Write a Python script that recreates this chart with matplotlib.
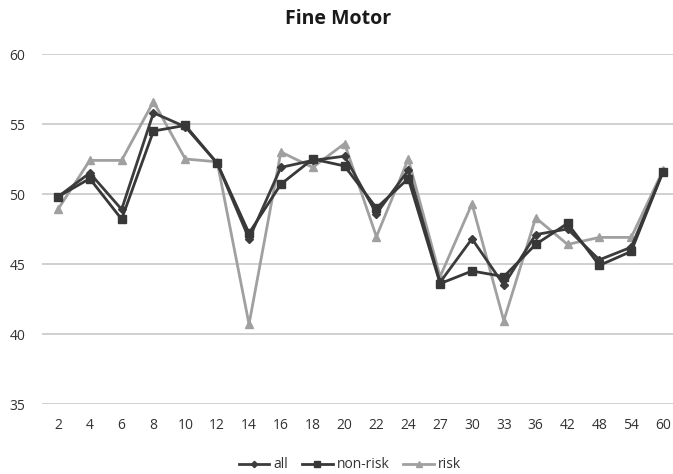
import matplotlib.pyplot as plt
import numpy as np

months = ['2', '4', '6', '8', '10', '12', '14', '16', '18', '20',
          '22', '24', '27', '30', '33', '36', '42', '48', '54', '60']

all_vals = [49.8, 51.5, 48.9, 55.8, 54.8, 52.2, 46.8, 51.9, 52.4, 52.7,
            48.6, 51.7, 43.7, 46.8, 43.5, 47.1, 47.5, 45.3, 46.2, 51.6]
nonrisk = [49.8, 51.1, 48.2, 54.5, 54.9, 52.2, 47.2, 50.7, 52.5, 52.0,
           49.0, 51.1, 43.6, 44.5, 44.1, 46.4, 47.9, 44.9, 45.9, 51.6]
risk = [48.9, 52.4, 52.4, 56.6, 52.5, 52.3, 40.7, 53.0, 51.9, 53.6,
        46.95, 52.5, 44.1, 49.3, 40.95, 48.3, 46.4, 46.9, 46.9, 51.7]

plt.rcParams['font.family'] = ['Open Sans', 'DejaVu Sans']

fig = plt.figure(figsize=(6.73, 4.74), dpi=100)
ax = fig.add_axes([42 / 673, 70 / 474, 637 / 673, 350 / 474])

x = np.arange(len(months))
ax.plot(x, risk, color='#a0a0a0', lw=2, marker='^', ms=6, label='risk', zorder=2)
ax.plot(x, all_vals, color='#3c3c3c', lw=2, marker='D', ms=4, label='all', zorder=3)
ax.plot(x, nonrisk, color='#383838', lw=2, marker='s', ms=6, label='non-risk', zorder=4)

ax.set_xlim(-0.5, len(months) - 0.5)
ax.set_ylim(35, 60)
ax.set_yticks([35, 40, 45, 50, 55, 60])
ax.set_xticks(x)
ax.set_xticklabels(months)
ax.grid(axis='y', color='#c8c8c8', lw=1.2)
ax.set_axisbelow(True)
for s in ax.spines.values():
    s.set_visible(False)
ax.tick_params(length=0, labelsize=10, labelcolor='#333333')
ax.tick_params(axis='y', pad=12)
ax.tick_params(axis='x', pad=10)

fig.text(338 / 673, 1 - 19 / 474, 'Fine Motor', ha='center', va='center',
         fontsize=14, fontweight='bold', color='#1a1a1a')

h, l = ax.get_legend_handles_labels()
order = [1, 2, 0]
fig.legend([h[i] for i in order], [l[i] for i in order], loc='center',
           bbox_to_anchor=(350 / 673, 1 - 465 / 474), ncol=3, frameon=False,
           fontsize=10, handlelength=2.2, handletextpad=0.3, columnspacing=1.0,
           markerscale=0.8, labelcolor='#333333')

fig.savefig('out.png', dpi=100)
